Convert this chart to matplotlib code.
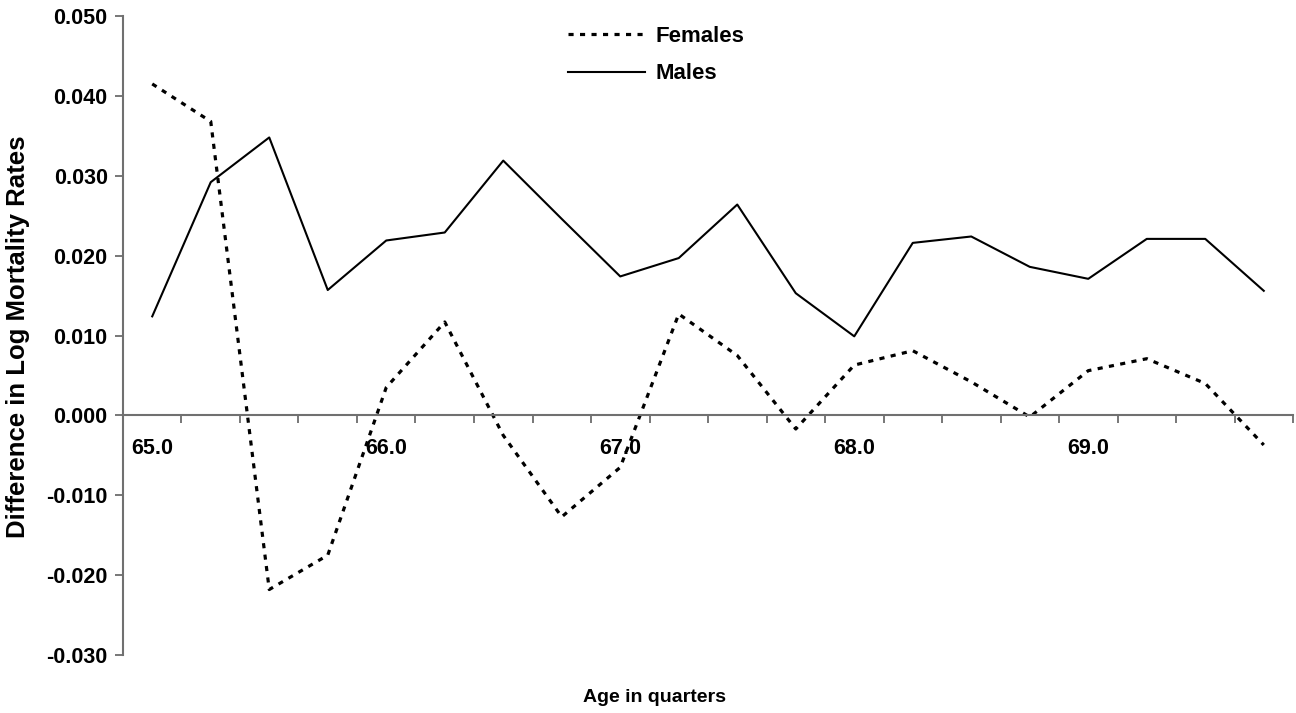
import numpy as np
import matplotlib
matplotlib.use("Agg")
import matplotlib.pyplot as plt

plt.rcParams['font.family'] = ['Liberation Sans', 'DejaVu Sans']
plt.rcParams['font.weight'] = 'bold'

# quarters of age from 65.0 to 69.75
ages = [65.0, 65.25, 65.5, 65.75, 66.0, 66.25, 66.5, 66.75, 67.0, 67.25,
        67.5, 67.75, 68.0, 68.25, 68.5, 68.75, 69.0, 69.25, 69.5, 69.75]

females = [0.0415, 0.0368, -0.0218, -0.0175, 0.0035, 0.0117, -0.0025, -0.0127, -0.0065, 0.0127,
           0.0075, -0.0017, 0.0063, 0.0081, 0.0042, -0.0002, 0.0056, 0.0071, 0.0040, -0.0037]

males = [0.0124, 0.0292, 0.0348, 0.0157, 0.0219, 0.0229, 0.0319, 0.0246, 0.0174, 0.0197,
         0.0264, 0.0153, 0.0099, 0.0216, 0.0224, 0.0186, 0.0171, 0.0221, 0.0221, 0.0156]

x_labels = ['65.0', '66.0', '67.0', '68.0', '69.0']

fig = plt.figure(figsize=(12.96, 7.13), dpi=100)
ax = fig.add_axes([0.0949, 0.0813, 0.9028, 0.8962])

x = np.arange(len(ages))
ax.plot(x, females, color='black', linewidth=2.3, linestyle=(0, (1.6, 2.0)),
        dash_capstyle='butt', label='Females')
ax.plot(x, males, color='black', linewidth=1.5, label='Males')

ax.set_xlim(-0.5, len(ages) - 0.5)
ax.set_ylim(-0.030, 0.050)
ax.set_yticks(np.arange(-0.030, 0.0501, 0.010))
ax.set_yticklabels([f'{v:.3f}' for v in np.arange(-0.030, 0.0501, 0.010)])

# category boundaries get tick marks, every 4th category gets a label
ax.set_xticks(np.arange(-0.5, len(ages), 1.0))
ax.set_xticklabels([])
ax.set_xticks(np.arange(0, len(ages), 4), minor=True)
ax.set_xticklabels(x_labels, minor=True)
ax.tick_params(axis='x', which='major', length=6, width=1.2, color='#606060', direction='out')
ax.tick_params(axis='x', which='minor', length=0, pad=16, labelsize=15.5)
ax.tick_params(axis='y', length=6, width=1.2, color='#606060', pad=5, labelsize=15.5)

ax.spines['top'].set_visible(False)
ax.spines['right'].set_visible(False)
ax.spines['bottom'].set_position(('data', 0))
for s in ['left', 'bottom']:
    ax.spines[s].set_color('#707070')
    ax.spines[s].set_linewidth(1.5)

fig.text(0.014, 0.527, 'Difference in Log Mortality Rates', rotation=90,
         ha='center', va='center', fontsize=18.5, fontweight='bold')
fig.text(0.505, 0.022, 'Age in quarters', ha='center', va='center',
         fontsize=14, fontweight='bold')

ax.legend(loc='upper left', bbox_to_anchor=(0.438, 0.964), bbox_transform=fig.transFigure,
          frameon=False, fontsize=16, handlelength=3.5, handletextpad=0.45,
          labelspacing=0.75, borderpad=0, borderaxespad=0)

fig.savefig('out.png', dpi=100)
